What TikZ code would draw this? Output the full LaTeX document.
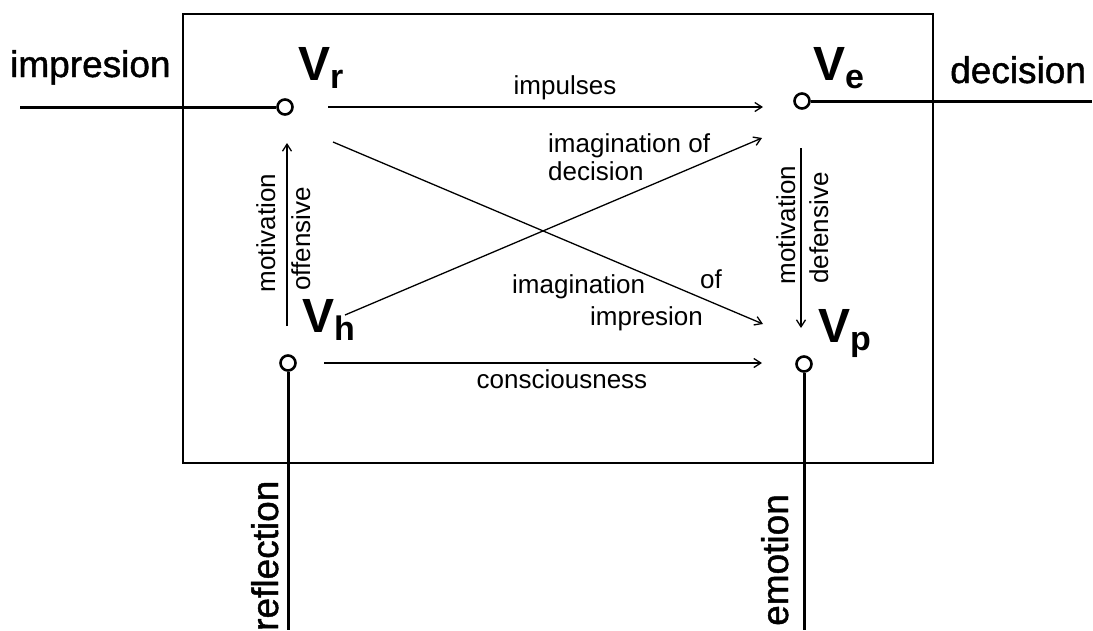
\documentclass[tikz,border=0pt]{standalone}
\usepackage{fontspec}
\setmainfont{Liberation Sans}
\usetikzlibrary{arrows.meta}
\newcommand\Vlab[1]{{\fontsize{48}{48}\selectfont\bfseries V\raisebox{-8pt}{\fontsize{34}{34}\selectfont #1}}}
\begin{document}
\begin{tikzpicture}[x=1pt,y=-1pt,
  small/.style={inner sep=0pt,font=\fontsize{26}{26}\selectfont},
  big/.style={inner sep=0pt,font=\fontsize{37}{37}\selectfont\addfontfeature{FakeBold=1.2}},
  vlab/.style={inner sep=0pt,anchor=base west},
  port/.style={circle,draw,line width=2.6pt,minimum size=15pt,inner sep=0pt},
  thickline/.style={line width=3pt},
  arr/.style={line width=1.3pt,-{Straight Barb[length=7pt,width=9pt]}},
  frame/.style={line width=1.5pt}]
\useasboundingbox (0,0) rectangle (1093,630);
\fill[white] (0,0) rectangle (1093,630);
% frame
\draw[frame] (183,14) rectangle (933,463);
% ports
\node[port] (r) at (285,107) {};
\node[port] (e) at (802,101) {};
\node[port] (h) at (288,363) {};
\node[port] (p) at (804,364) {};
% external lines
\coordinate (rin) at (20,107);
\coordinate (eout) at (1092,101);
\coordinate (hout) at (288,630);
\coordinate (pout) at (804,630);
\draw[thickline] (rin) -- (r.west);
\draw[thickline] (e.east) -- (eout);
\draw[thickline] (h.south) -- (hout);
\draw[thickline] (p.south) -- (pout);
% V labels
\node[vlab] (lr) at (298,80) {\Vlab{r}};
\node[vlab] (le) at (813,80) {\Vlab{e}};
\node[vlab] (lh) at (302,332) {\Vlab{h}};
\node[vlab] (lp) at (818,342) {\Vlab{p}};
% arrow endpoints
\coordinate (a1s) at (328,107); \coordinate (a1e) at (763,107);
\coordinate (a2s) at (333,142); \coordinate (a2e) at (763,324);
\coordinate (a3s) at (345,315); \coordinate (a3e) at (762,138);
\coordinate (a4s) at (287,326); \coordinate (a4e) at (287,143);
\coordinate (a5s) at (801,148); \coordinate (a5e) at (801,328);
\coordinate (a6s) at (324,363); \coordinate (a6e) at (762,363);
\draw[arr] (a1s) -- (a1e);
\draw[arr] (a2s) -- (a2e);
\draw[arr] (a3s) -- (a3e);
\draw[arr] (a4s) -- (a4e);
\draw[arr] (a5s) -- (a5e);
\draw[arr] (a6s) -- (a6e);
% small labels
\node[small,anchor=base] (t1) at (565,94) {impulses};
\node[small,anchor=base west] (t2) at (548,152) {imagination of};
\node[small,anchor=base west] (t3) at (548,180) {decision};
\node[small,anchor=base west] (t4) at (512,293) {imagination};
\node[small,anchor=base west] (t5) at (700,288) {of};
\node[small,anchor=base west] (t6) at (590,325) {impresion};
\node[small,anchor=base] (t7) at (562,388) {consciousness};
\node[small,anchor=base,rotate=90] (t8) at (275,233) {motivation};
\node[small,anchor=base,rotate=90] (t9) at (310,239) {offensive};
\node[small,anchor=base,rotate=90] (t10) at (795,225) {motivation};
\node[small,anchor=base,rotate=90] (t11) at (828,228) {defensive};
% big labels
\node[big,anchor=base west] (b1) at (10,77) {impresion};
\node[big,anchor=base west] (b2) at (950,83) {decision};
\node[big,anchor=base west,rotate=90] (b3) at (278,631) {reflection};
\node[big,anchor=base west,rotate=90] (b4) at (788,626) {emotion};
\end{tikzpicture}
\end{document}
